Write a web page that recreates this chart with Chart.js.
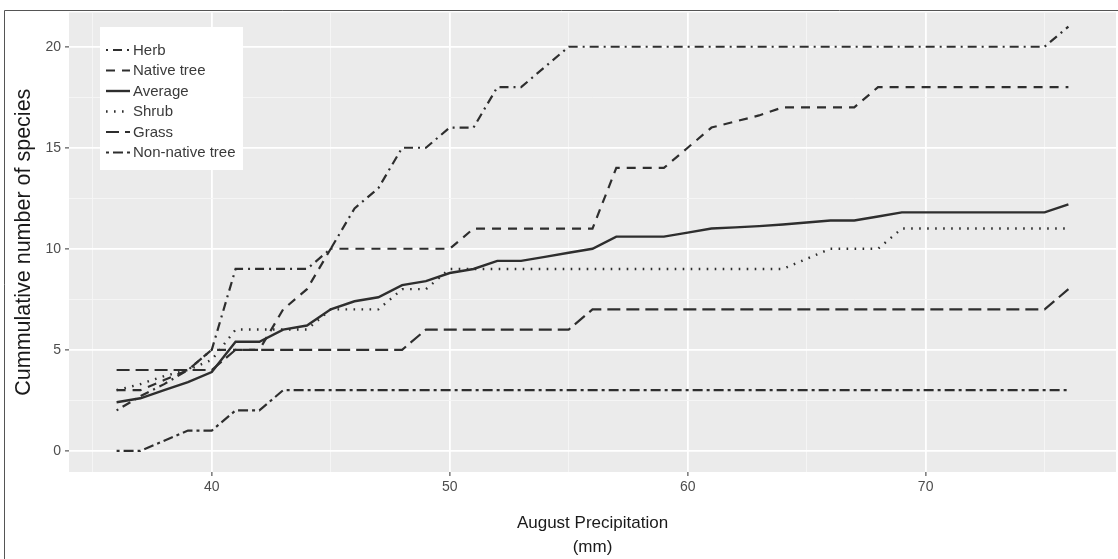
<!DOCTYPE html>
<html>
<head>
<meta charset="utf-8">
<script src="https://cdn.jsdelivr.net/npm/chart.js@4/dist/chart.umd.min.js"></script>
<style>
  html, body { margin: 0; padding: 0; background: #ffffff; }
  #wrap { position: relative; width: 1118px; height: 559px; }
</style>
</head>
<body>
<div id="wrap"><canvas id="chart" width="1118" height="559"></canvas></div>
<script>
// August precipitation (mm) at which the cumulative counts are taken
const precipitation = [36, 37, 38, 39, 40, 41, 42, 43, 44, 45, 46, 47, 48, 49, 50, 51, 52, 53, 54, 55, 56,
                       57, 58, 59, 60, 61, 62, 63, 64, 65, 66, 67, 68, 69, 70, 71, 72, 73, 74, 75, 76];

// Cumulative number of species per plant group
const herb        = [2, 2.7, 3.3, 4, 5, 9, 9, 9, 9, 10, 12, 13, 15, 15, 16, 16, 18, 18, 19, 20, 20,
                     20, 20, 20, 20, 20, 20, 20, 20, 20, 20, 20, 20, 20, 20, 20, 20, 20, 20, 20, 21];
const nativeTree  = [3, 3, 3.5, 4, 5, 5, 5, 7, 8, 10, 10, 10, 10, 10, 10, 11, 11, 11, 11, 11, 11,
                     14, 14, 14, 15, 16, 16.3, 16.6, 17, 17, 17, 17, 18, 18, 18, 18, 18, 18, 18, 18, 18];
const average     = [2.4, 2.6, 3.0, 3.4, 3.9, 5.4, 5.4, 6.0, 6.2, 7.0, 7.4, 7.6, 8.2, 8.4, 8.8, 9.0, 9.4, 9.4, 9.6, 9.8, 10.0,
                     10.6, 10.6, 10.6, 10.8, 11.0, 11.06, 11.12, 11.2, 11.3, 11.4, 11.4, 11.6, 11.8, 11.8, 11.8, 11.8, 11.8, 11.8, 11.8, 12.2];
const shrub       = [3, 3.3, 3.7, 4, 4.5, 6, 6, 6, 6, 7, 7, 7, 8, 8, 9, 9, 9, 9, 9, 9, 9,
                     9, 9, 9, 9, 9, 9, 9, 9, 9.5, 10, 10, 10, 11, 11, 11, 11, 11, 11, 11, 11];
const grass       = [4, 4, 4, 4, 4, 5, 5, 5, 5, 5, 5, 5, 5, 6, 6, 6, 6, 6, 6, 6, 7,
                     7, 7, 7, 7, 7, 7, 7, 7, 7, 7, 7, 7, 7, 7, 7, 7, 7, 7, 7, 8];
const nonNative   = [0, 0, 0.5, 1, 1, 2, 2, 3, 3, 3, 3, 3, 3, 3, 3, 3, 3, 3, 3, 3, 3,
                     3, 3, 3, 3, 3, 3, 3, 3, 3, 3, 3, 3, 3, 3, 3, 3, 3, 3, 3, 3];

const seriesNames = ['Herb', 'Native tree', 'Average', 'Shrub', 'Grass', 'Non-native tree'];
const seriesData  = [herb, nativeTree, average, shrub, grass, nonNative];

// Tick positions (major ticks are labelled, minor ones only get a grid line)
const xTicks = [35, 40, 45, 50, 55, 60, 65, 70, 75];
const xMajor = [40, 50, 60, 70];
const yTicks = [0, 2.5, 5, 7.5, 10, 12.5, 15, 17.5, 20];
const yMajor = [0, 5, 10, 15, 20];

// Line styles, one per group
const lineStyles = [
  { dash: [2, 5, 9, 5],   width: 2.2 },  // dot-dash
  { dash: [9, 7],         width: 2.2 },  // dashed
  { dash: [],             width: 2.4 },  // solid
  { dash: [1.6, 6.4],     width: 2.4 },  // dotted
  { dash: [13, 6],        width: 2.2 },  // long dash
  { dash: [3, 4, 10, 4],  width: 2.2 }   // two-dash
];
const lineColor = '#2e2e2e';

const datasets = seriesNames.map((name, k) => ({
  label: name,
  data: precipitation.map((x, i) => ({ x: x, y: seriesData[k][i] })),
  borderColor: lineColor,
  borderWidth: lineStyles[k].width,
  borderDash: lineStyles[k].dash,
  pointRadius: 0,
  fill: false,
  tension: 0
}));

const FONT = "'Liberation Sans', Arial, sans-serif";

// Grey panel behind the plotting area
const panelBackground = {
  id: 'panelBackground',
  beforeDraw(chart) {
    const { ctx, chartArea: a } = chart;
    ctx.save();
    ctx.fillStyle = '#ebebeb';
    ctx.fillRect(a.left, a.top, a.right - a.left, a.bottom - a.top);
    ctx.restore();
  }
};

// Legend in a white box inside the panel, keys drawn with each dataset's own style
const insetLegend = {
  id: 'insetLegend',
  afterDatasetsDraw(chart) {
    const { ctx } = chart;
    const box = { x: 100, y: 27, w: 143, h: 143 };
    ctx.save();
    ctx.fillStyle = '#ffffff';
    ctx.fillRect(box.x, box.y, box.w, box.h);
    ctx.font = '15px ' + FONT;
    ctx.textBaseline = 'middle';
    chart.data.datasets.forEach((ds, i) => {
      const y = 50 + i * 20.5;
      ctx.beginPath();
      ctx.strokeStyle = ds.borderColor;
      ctx.lineWidth = ds.borderWidth;
      ctx.setLineDash(ds.borderDash || []);
      ctx.moveTo(106, y);
      ctx.lineTo(130, y);
      ctx.stroke();
      ctx.setLineDash([]);
      ctx.fillStyle = '#3a3a3a';
      ctx.fillText(ds.label, 133, y + 0.5);
    });
    ctx.restore();
  }
};

// Thin frame along the top and left edges of the figure
const frame = {
  id: 'frame',
  afterDraw(chart) {
    const { ctx } = chart;
    ctx.save();
    ctx.strokeStyle = '#555555';
    ctx.lineWidth = 1;
    ctx.beginPath();
    ctx.moveTo(4.5, 559);
    ctx.lineTo(4.5, 10.5);
    ctx.lineTo(1118, 10.5);
    ctx.stroke();
    ctx.restore();
  }
};

function gridColor(major) {
  return ctx => (ctx.tick && major.includes(ctx.tick.value)) ? '#ffffff' : '#f6f6f6';
}
function gridWidth(major) {
  return ctx => (ctx.tick && major.includes(ctx.tick.value)) ? 1.8 : 0.9;
}
function tickColor(major) {
  return ctx => (ctx.tick && major.includes(ctx.tick.value)) ? '#333333' : 'rgba(0,0,0,0)';
}

new Chart(document.getElementById('chart'), {
  type: 'line',
  data: { datasets: datasets },
  options: {
    responsive: false,
    animation: false,
    events: [],
    layout: { padding: { top: 11, left: 0, right: 2, bottom: 0 } },
    plugins: {
      legend: { display: false },
      tooltip: { enabled: false }
    },
    scales: {
      x: {
        type: 'linear',
        min: 34,
        max: 78,
        afterBuildTicks: s => { s.ticks = xTicks.map(v => ({ value: v })); },
        afterFit: s => { s.height = 87; },
        ticks: {
          autoSkip: false,
          maxRotation: 0,
          padding: 3,
          color: '#4d4d4d',
          font: { family: FONT, size: 14 },
          callback: v => xMajor.includes(v) ? String(v) : ''
        },
        grid: {
          color: gridColor(xMajor),
          lineWidth: gridWidth(xMajor),
          tickColor: tickColor(xMajor),
          tickWidth: 1,
          tickLength: 4,
          drawTicks: true
        },
        border: { display: false },
        title: {
          display: true,
          text: ['August Precipitation', '(mm)'],
          color: '#1a1a1a',
          font: { family: FONT, size: 17, lineHeight: 1.4 },
          padding: { top: 0, bottom: 0 }
        }
      },
      y: {
        type: 'linear',
        min: -1.05,
        max: 21.7,
        afterBuildTicks: s => { s.ticks = yTicks.map(v => ({ value: v })); },
        afterFit: s => { s.width = 69; },
        ticks: {
          autoSkip: false,
          padding: 4,
          color: '#4d4d4d',
          font: { family: FONT, size: 14 },
          callback: v => yMajor.includes(v) ? String(v) : ''
        },
        grid: {
          color: gridColor(yMajor),
          lineWidth: gridWidth(yMajor),
          tickColor: tickColor(yMajor),
          tickWidth: 1,
          tickLength: 4,
          drawTicks: true
        },
        border: { display: false },
        title: {
          display: true,
          text: 'Cummulative number of species',
          color: '#1a1a1a',
          font: { family: FONT, size: 21.5, lineHeight: 1.2 },
          padding: { top: 11, bottom: 0 }
        }
      }
    }
  },
  plugins: [panelBackground, insetLegend, frame]
});
</script>
</body>
</html>
